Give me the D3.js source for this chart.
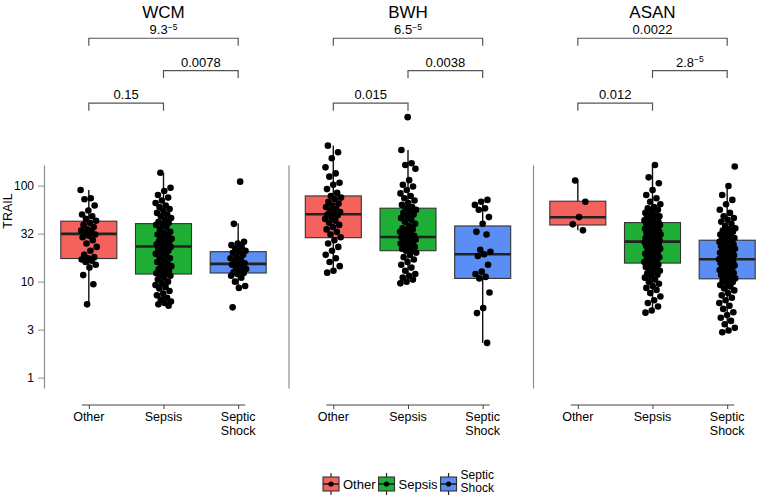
<!DOCTYPE html>
<html><head><meta charset="utf-8">
<script src="https://cdn.jsdelivr.net/npm/d3@7"></script>
<style>body{margin:0;background:#fff} text{font-family:"Liberation Sans",Arial,Helvetica,sans-serif;fill:#000}</style>
</head><body><svg id="c" width="757" height="497"></svg>
<script>
// ---------- data ----------
const sites = ["WCM", "BWH", "ASAN"];
const groups = ["Other", "Sepsis", "Septic Shock"];
const groupLabels = [["Other"], ["Sepsis"], ["Septic", "Shock"]];
const groupColors = ["#F3625D", "#1EAE36", "#5A8EF4"];
const yTickValues = [1, 3.1623, 10, 31.623, 100];
const yTickLabels = ["1", "3", "10", "32", "100"];
const yLimits = [0.78, 164];
const yTitle = "TRAIL";

// p-value annotations (base^exponent)
const pOtherSepsis = ["0.15", "0.015", "0.012"];
const pSepsisShock = ["0.0078", "0.0038", "2.8^-5"];
const pOtherShock  = ["9.3^-5", "6.5^-5", "0.0022"];
const bracketLevels = [722, 1578, 3430]; // label.y in TRAIL units: Other-Sepsis, Sepsis-Shock, Other-Shock

// box statistics [lower whisker, Q1, median, Q3, upper whisker]
const wcmBoxes  = [[5.8, 17.4, 31.4, 42.6, 90], [5.6, 12.0, 23.2, 40.2, 136], [8.6, 12.3, 15.3, 20.5, 40.6]];
const bwhBoxes  = [[12.4, 28.7, 50.4, 78.1, 261], [9.6, 21.0, 29.2, 58.2, 235], [2.3, 10.8, 19.3, 38.0, 71]];
const asanBoxes = [[34.2, 38.9, 46.9, 68.8, 113], [4.75, 15.6, 26.1, 41.2, 164], [3.0, 10.7, 17.1, 27.0, 97.6]];

// individual observations
const wcmOther = [90, 74, 72, 62, 55, 50, 48, 45, 43, 41, 39, 37, 35, 34, 33, 32, 31, 30, 29, 27, 25, 23, 21, 19, 18, 17.5, 17, 16.5, 16, 15, 14, 11.7, 9.4, 5.8];
const wcmSepsis = [136, 95, 88, 80, 75, 70, 66, 62, 60, 57, 55, 52, 50, 48, 46, 44, 42, 41, 40, 39, 37, 35, 33, 32, 31, 30, 29, 28, 27, 26.5, 26, 25, 24.5, 24, 23.5, 23, 22.5, 22, 21, 20, 19.5, 19, 18, 17.5, 17, 16, 15.5, 15, 14.5, 14, 13.5, 13, 12.5, 12.2, 12, 11.8, 11.5, 11, 10.5, 10, 9.6, 9.2, 8.8, 8.5, 8, 7.5, 7.2, 6.8, 6.5, 6.2, 6, 5.8, 5.6];
const wcmShock = [110, 40, 26, 25, 24, 23, 22, 21, 20.5, 20, 19, 18, 17.5, 17, 16, 15.5, 15.3, 15, 14.5, 14, 13.5, 13, 12.5, 12.3, 12, 11.5, 11, 10, 9, 8.6, 5.4];
const bwhOther = [261, 223, 193, 155, 134, 124, 107, 102, 92, 84, 78, 75, 72, 68, 65, 62, 60, 57, 55, 53, 51, 50, 49, 47, 45, 43, 41, 39, 37, 35, 33, 31, 29, 27, 25, 23, 21, 19, 17.5, 16, 14.5, 13, 12.4];
const bwhSepsis = [517, 235, 171, 164, 150, 114, 102, 98, 90, 83, 78, 74, 70, 66, 63, 60, 58, 56, 54, 52, 50, 48, 46, 44, 42, 40, 38, 36, 35, 34, 33, 32, 31, 30, 29.5, 29, 28.5, 28, 27.5, 27, 26.5, 26, 25.5, 25, 24, 23.5, 23, 22.5, 22, 21.5, 21, 20, 19, 18, 17, 16, 15, 14, 13, 12, 11.5, 11, 10.5, 10, 9.6];
const bwhShock = [71, 68, 63, 58, 56, 47, 40, 33, 31, 21.5, 20.5, 19.3, 18.5, 15, 12.7, 12, 11.2, 10.8, 7.7, 5.3, 4.7, 2.3];
const asanOther = [113, 68, 47, 39.5, 34.2];
const asanSepsis = [164, 122, 106, 90, 80, 74, 68, 64, 60, 58, 56, 54, 52, 50, 49, 48, 47, 46, 45, 44, 43.5, 43, 42.5, 42, 41.5, 41, 40.5, 40, 39, 38, 37.5, 37, 36, 35.5, 35, 34, 33.5, 33, 32.5, 32, 31.5, 31, 30.5, 30, 29.5, 29, 28.5, 28, 27.5, 27, 26.8, 26.5, 26.2, 26, 25.7, 25.4, 25, 24.5, 24, 23.5, 23, 22.5, 22, 21.5, 21, 20.5, 20, 19.5, 19, 18.5, 18, 17.5, 17, 16.7, 16.4, 16, 15.7, 15.4, 15, 14.6, 14.2, 13.8, 13.4, 13, 12.6, 12.2, 11.8, 11.4, 11, 10.5, 10, 9.5, 9, 8.6, 8.2, 7.6, 7, 6.4, 6, 5.5, 5, 4.75];
const asanShock = [158, 99, 80, 71, 64, 56, 52, 48, 46, 44, 42, 40, 38, 36, 35, 34, 33, 32, 31, 30, 29, 28.5, 28, 27.5, 27, 26.5, 26, 25.5, 25, 24.5, 24, 23.5, 23, 22.5, 22, 21.6, 21.2, 20.8, 20.4, 20, 19.6, 19.2, 18.8, 18.4, 18, 17.7, 17.4, 17.1, 16.8, 16.5, 16.2, 15.9, 15.6, 15.3, 15, 14.7, 14.4, 14.1, 13.8, 13.5, 13.2, 12.9, 12.6, 12.3, 12, 11.7, 11.4, 11.1, 10.8, 10.5, 10.2, 9.9, 9.6, 9.2, 8.9, 8.5, 8.1, 7.6, 7.2, 6.8, 6.4, 6, 5.6, 5.2, 4.8, 4.5, 4.2, 3.9, 3.6, 3.3, 3.1, 2.97];

const siteBoxes = [wcmBoxes, bwhBoxes, asanBoxes];
const sitePoints = [[wcmOther, wcmSepsis, wcmShock], [bwhOther, bwhSepsis, bwhShock], [asanOther, asanSepsis, asanShock]];

// ---------- layout ----------
const svg = d3.select("#c");
const panelLeft = [44, 288.5, 533];
const panelW = 239;
const xAxisY = 405;
const font = 12.5;

const y = d3.scaleLog().domain(yLimits).range([388, 165]);

svg.append("text").attr("transform", "translate(11.5,211) rotate(-90)")
  .attr("text-anchor", "middle").attr("font-size", 12.5).text(yTitle);

function pText(sel, label) {
  const parts = label.split("^");
  sel.text(parts[0]);
  if (parts.length > 1) sel.append("tspan").attr("dy", -4.5).attr("font-size", 8.5).text(parts[1].replace("-", "\u2212"));
}

sites.forEach((site, si) => {
  const g = svg.append("g");
  const x = d3.scalePoint().domain(groups).range([panelLeft[si], panelLeft[si] + panelW]).padding(0.6);
  const step = x.step();
  const bw = step * 0.75;
  const jit = step * 0.11;

  // facet title
  g.append("text").attr("x", panelLeft[si] + panelW / 2).attr("y", 17.5)
    .attr("text-anchor", "middle").attr("font-size", 17).text(site);

  // y axis / separator
  const ya = g.append("g").attr("transform", `translate(${panelLeft[si]},0)`)
    .call(d3.axisLeft(y).tickValues(si === 0 ? yTickValues : []).tickFormat((d, i) => yTickLabels[i])
      .tickSize(6).tickPadding(4).tickSizeOuter(0));
  ya.select(".domain").attr("stroke", "#8c8c8c").attr("stroke-width", 1.2);
  ya.selectAll(".tick line").attr("stroke", "#8c8c8c");
  ya.selectAll(".tick text").attr("font-size", 12).attr("font-family", "Liberation Sans, Arial, sans-serif").attr("fill", "#222");

  // x axis
  const xa = g.append("g").attr("transform", `translate(0,${xAxisY})`)
    .call(d3.axisBottom(x).tickSize(4).tickSizeOuter(0).tickFormat(() => ""));
  xa.select(".domain").remove();
  xa.selectAll(".tick line").attr("stroke", "#444");
  xa.append("line").attr("x1", x(groups[0]) - 7).attr("x2", x(groups[2]) + 7)
    .attr("stroke", "#444").attr("stroke-width", 1.1);
  groups.forEach((grp, gi) => {
    const t = g.append("text").attr("x", x(grp)).attr("y", xAxisY + 16)
      .attr("text-anchor", "middle").attr("font-size", font).attr("fill", "#222");
    groupLabels[gi].forEach((line, li) => {
      t.append("tspan").attr("x", x(grp)).attr("dy", li === 0 ? 0 : 13.5).text(line);
    });
  });

  // boxes
  groups.forEach((grp, gi) => {
    const s = siteBoxes[si][gi];
    const cx = x(grp);
    g.append("line").attr("x1", cx).attr("x2", cx).attr("y1", y(s[0])).attr("y2", y(s[4]))
      .attr("stroke", "#111").attr("stroke-width", 1.4);
    g.append("rect").attr("x", cx - bw / 2).attr("width", bw)
      .attr("y", y(s[3])).attr("height", y(s[1]) - y(s[3]))
      .attr("fill", groupColors[gi]).attr("stroke", "#333").attr("stroke-width", 1.1);
    g.append("line").attr("x1", cx - bw / 2).attr("x2", cx + bw / 2).attr("y1", y(s[2])).attr("y2", y(s[2]))
      .attr("stroke", "#222").attr("stroke-width", 2.6);
  });

  // points (deterministic jitter)
  groups.forEach((grp, gi) => {
    const cx = x(grp);
    g.selectAll(null).data(sitePoints[si][gi]).enter().append("circle")
      .attr("cx", (d, i) => cx + (((i * 0.618034 + gi * 0.31 + si * 0.17) % 1) - 0.5) * 2 * jit)
      .attr("cy", d => y(d)).attr("r", 3.3).attr("fill", "#000");
  });

  // comparison brackets
  const pairs = [[0, 1, pOtherSepsis[si], bracketLevels[0]], [1, 2, pSepsisShock[si], bracketLevels[1]], [0, 2, pOtherShock[si], bracketLevels[2]]];
  pairs.forEach(([a, b, lab, lv]) => {
    const yy = y(lv), x1 = x(groups[a]), x2 = x(groups[b]);
    g.append("path").attr("d", `M${x1},${yy + 7.5}V${yy}H${x2}V${yy + 7.5}`)
      .attr("fill", "none").attr("stroke", "#555").attr("stroke-width", 1.2);
    const t = g.append("text").attr("x", (x1 + x2) / 2).attr("y", yy - 4)
      .attr("text-anchor", "middle").attr("font-size", 13).attr("fill", "#222");
    pText(t, lab);
  });
});

// ---------- legend ----------
const lg = svg.append("g");
let lx = 323;
const ly = 484;
groups.forEach((grp, gi) => {
  const k = lg.append("g").attr("transform", `translate(${lx},${ly})`);
  k.append("line").attr("x1", 8).attr("x2", 8).attr("y1", -11).attr("y2", 11).attr("stroke", "#222").attr("stroke-width", 1.2);
  k.append("rect").attr("x", 0).attr("y", -7).attr("width", 16).attr("height", 14)
    .attr("fill", groupColors[gi]).attr("stroke", "#333").attr("stroke-width", 1.1);
  k.append("line").attr("x1", 0).attr("x2", 16).attr("y1", 0).attr("y2", 0).attr("stroke", "#222").attr("stroke-width", 1.6);
  k.append("circle").attr("cx", 8).attr("cy", 0).attr("r", 2.6).attr("fill", "#000");
  const lines = groupLabels[gi];
  const t = k.append("text").attr("x", 20).attr("font-size", lines.length === 1 ? 13 : 12).attr("fill", "#222")
    .attr("y", lines.length === 1 ? 5 : -5.5);
  lines.forEach((line, li) => t.append("tspan").attr("x", 20).attr("dy", li === 0 ? 0 : 13).text(line));
  lx += 20 + t.node().getComputedTextLength() + 3;
});
</script></body></html>
